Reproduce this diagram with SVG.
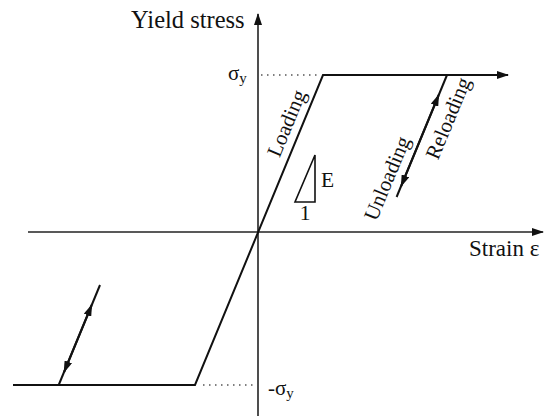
<svg xmlns="http://www.w3.org/2000/svg" width="545" height="416" viewBox="0 0 545 416">
  <defs>
    <marker id="arr" markerUnits="userSpaceOnUse" markerWidth="12" markerHeight="8" viewBox="0 0 12 8" refX="11" refY="4" orient="auto">
      <path d="M0,0 L12,4 L0,8 z" fill="#111"/>
    </marker>
  </defs>
  <style>
    .axis { stroke: #222; stroke-width: 1.6; fill: none; }
    .curve { stroke: #111; stroke-width: 2; fill: none; }
    .dot { stroke: #555; stroke-width: 1.4; stroke-dasharray: 1.5 4.5; fill: none; }
    .lbl { font-family: "Liberation Serif", "Times New Roman", serif; fill: #111; }
  </style>
  <rect width="545" height="416" fill="#fff"/>
  <g id="connectors">
    <path id="y-axis" class="axis" d="M258,416 L258,14" marker-end="url(#arr)"/>
    <path id="x-axis" class="axis" d="M28,232 L543,232" marker-end="url(#arr)"/>
    <path id="dot-top" class="dot" d="M261,75 L321,75"/>
    <path id="dot-bottom" class="dot" d="M203,385 L255,385"/>
    <path id="loading" class="curve" d="M13,385 L195,385 L323,75 L508,75" marker-end="url(#arr)"/>
    <path id="unload-top" class="curve" d="M447,75 L401.2,186" marker-end="url(#arr)"/>
    <path id="reload-top" class="curve" d="M396.6,197 L438.7,95" marker-end="url(#arr)"/>
    <path id="reload-bottom" class="curve" d="M58.7,385 L91.7,305" marker-end="url(#arr)"/>
    <path id="unload-bottom" class="curve" d="M100,285 L64.1,372" marker-end="url(#arr)"/>
    <path id="slope-triangle" class="curve" style="stroke-width:1.6" d="M295,202 L315,202 L315,155 z"/>
  </g>
  <g id="labels">
    <text id="yield-stress" class="lbl" x="131" y="28" font-size="24.5">Yield stress</text>
    <text id="strain" class="lbl" x="469" y="256" font-size="23">Strain ε</text>
    <text id="sigma-y" class="lbl" x="228" y="80" font-size="21">σ<tspan font-size="15" dy="3">y</tspan></text>
    <text id="neg-sigma-y" class="lbl" x="268" y="395" font-size="21">-σ<tspan font-size="15" dy="3">y</tspan></text>
    <text id="E" class="lbl" x="321" y="187" font-size="21.5">E</text>
    <text id="one" class="lbl" x="305" y="220" font-size="21.5" text-anchor="middle">1</text>
    <text id="loading-lbl" class="lbl" font-size="21" text-anchor="middle" transform="translate(293,126) rotate(-67.5)">Loading</text>
    <text id="unloading-lbl" class="lbl" font-size="21" text-anchor="middle" transform="translate(393.5,181) rotate(-67.5)">Unloading</text>
    <text id="reloading-lbl" class="lbl" font-size="21" text-anchor="middle" transform="translate(454.5,121) rotate(-67.5)">Reloading</text>
  </g>
</svg>
